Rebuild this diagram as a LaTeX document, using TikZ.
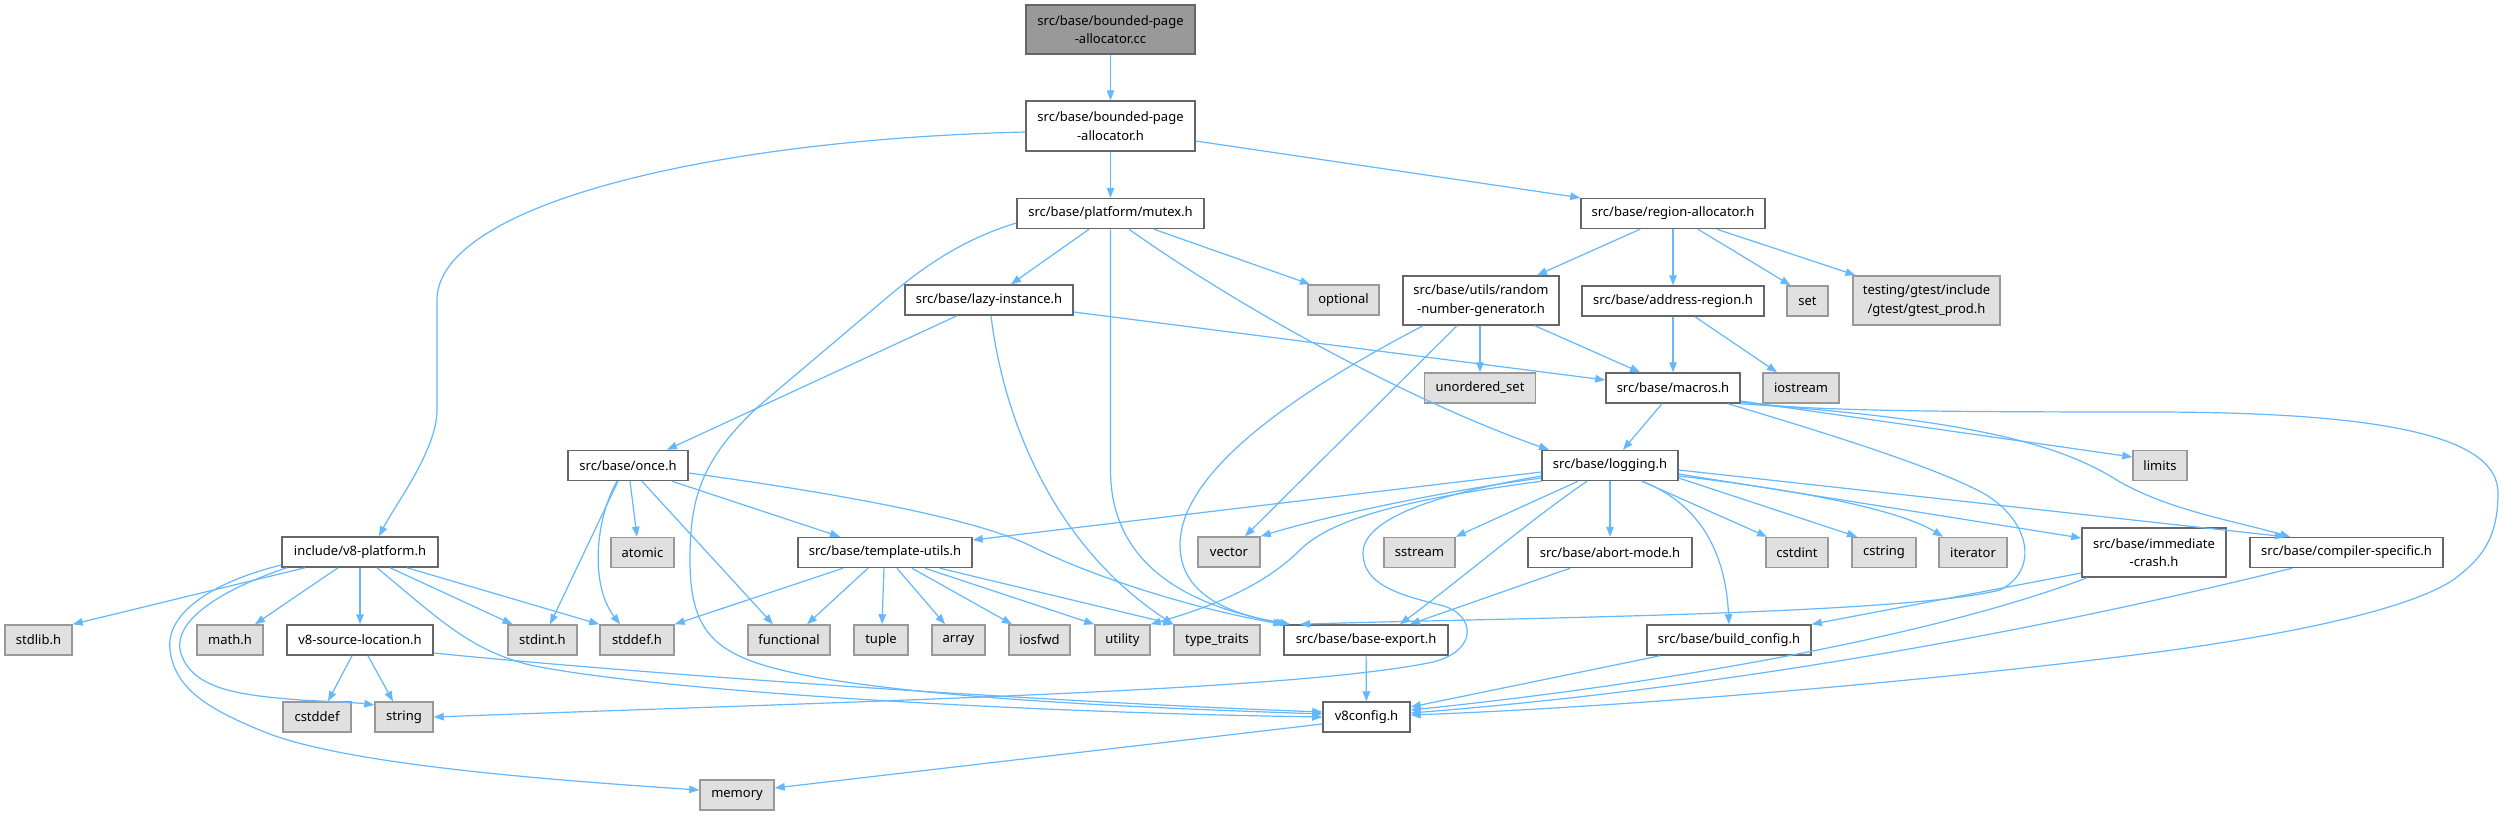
\documentclass[tikz,border=0pt]{standalone}
\usepackage{fontspec}
\setmainfont{Noto Sans}
\usetikzlibrary{arrows.meta}
\definecolor{edgec}{HTML}{63B8FF}
\definecolor{bordc}{HTML}{666666}
\definecolor{extbord}{HTML}{999999}
\definecolor{extfill}{HTML}{E0E0E0}
\definecolor{mainfill}{HTML}{999999}
\newcommand{\dxfont}{\fontsize{13}{18.7}\selectfont}
\tikzset{
  box/.style={draw=bordc, fill=white, line width=1.5pt, minimum height=30pt, inner sep=0pt, font=\dxfont, align=center, text=black},
  ext/.style={box, draw=extbord, fill=extfill},
  mainnode/.style={box, fill=mainfill, draw=bordc},
  dep/.style={draw=edgec, line width=1.2pt, -{Triangle[length=10pt,width=7.5pt]}}
}
\begin{document}
\begin{tikzpicture}[x=1pt,y=-1pt]
\fill[white] (0,0) rectangle (2504,815);
\useasboundingbox (0,0) rectangle (2504,815);
% nodes
\node[mainnode, minimum width=169, minimum height=49] (cc) at (1110.5,29.5) {src/base/bounded-page\\-allocator.cc};
\node[box, minimum width=169, minimum height=50] (bpa) at (1110.5,126) {src/base/bounded-page\\-allocator.h};
\node[box, minimum width=187] (mutex) at (1110.5,213.5) {src/base/platform/mutex.h};
\node[box, minimum width=184] (region) at (1673,213.5) {src/base/region-allocator.h};
\node[box, minimum width=168] (lazy) at (989,300) {src/base/lazy-instance.h};
\node[ext, minimum width=71] (optional) at (1343.5,300) {optional};
\node[box, minimum width=156, minimum height=49] (random) at (1481,300.5) {src/base/utils/random\\-number-generator.h};
\node[box, minimum width=182] (address) at (1673,301) {src/base/address-region.h};
\node[ext, minimum width=41] (set) at (1807.5,301) {set};
\node[ext, minimum width=147, minimum height=49] (gtest) at (1926.5,300.5) {testing/gtest/include\\/gtest/gtest\_prod.h};
\node[ext, minimum width=111] (unordered) at (1480,388) {unordered\_set};
\node[box, minimum width=134] (macros) at (1673,388) {src/base/macros.h};
\node[ext, minimum width=76] (iostream) at (1801,388) {iostream};
\node[box, minimum width=120] (once) at (628,465.5) {src/base/once.h};
\node[box, minimum width=136] (logging) at (1610,465.5) {src/base/logging.h};
\node[ext, minimum width=54] (limits) at (2160,465.5) {limits};
\node[box, minimum width=156] (v8platform) at (360,552) {include/v8-platform.h};
\node[ext, minimum width=63] (atomic) at (642.5,552.5) {atomic};
\node[box, minimum width=174] (template) at (885,552.5) {src/base/template-utils.h};
\node[ext, minimum width=62] (vector) at (1229,552) {vector};
\node[ext, minimum width=71] (sstream) at (1419.5,552.5) {sstream};
\node[box, minimum width=164] (abort) at (1610,552.5) {src/base/abort-mode.h};
\node[ext, minimum width=62] (cstdint) at (1797,552.5) {cstdint};
\node[ext, minimum width=64] (cstring) at (1884,552.5) {cstring};
\node[ext, minimum width=68] (iterator) at (1973,552.5) {iterator};
\node[box, minimum width=144, minimum height=49] (immediate) at (2154,552.5) {src/base/immediate\\-crash.h};
\node[box, minimum width=193] (compiler) at (2346.5,552.5) {src/base/compiler-specific.h};
\node[ext, minimum width=67] (stdlib) at (38.5,640) {stdlib.h};
\node[ext, minimum width=66] (math) at (230,640) {math.h};
\node[box, minimum width=146] (v8srcloc) at (360,640) {v8-source-location.h};
\node[ext, minimum width=69] (stdint) at (542.5,640) {stdint.h};
\node[ext, minimum width=74] (stddef) at (637,640) {stddef.h};
\node[ext, minimum width=82] (functional) at (789,640) {functional};
\node[ext, minimum width=54] (tuple) at (881,640) {tuple};
\node[ext, minimum width=53] (array) at (958.5,640) {array};
\node[ext, minimum width=61] (iosfwd) at (1039.5,640) {iosfwd};
\node[ext, minimum width=55] (utility) at (1122.5,640) {utility};
\node[ext, minimum width=86] (typetraits) at (1217,640) {type\_traits};
\node[box, minimum width=164] (baseexport) at (1366,640) {src/base/base-export.h};
\node[box, minimum width=164] (buildconfig) at (1729,640) {src/base/build\_config.h};
\node[ext, minimum width=68] (cstddef) at (317,717) {cstddef};
\node[ext, minimum width=58] (string) at (404,717) {string};
\node[box, minimum width=87] (v8config) at (1366.5,717) {v8config.h};
\node[ext, minimum width=74] (memory) at (737,795) {memory};
% edges
\draw[dep] (cc) -- (bpa);
\draw[dep] ([yshift=-6]bpa.west) .. controls (701,140) and (437,207) .. (437,300) -- (437,410) .. controls (437,450) and (395,505) .. ([xshift=19]v8platform.north);
\draw[dep] (bpa) -- (mutex);
\draw[dep] ([yshift=-15]bpa.east) -- (region.north west);
\draw[dep] ([xshift=-21.5]mutex.south) -- ([xshift=22]lazy.north);
\draw[dep] ([yshift=-9.5]mutex.west) .. controls (960,240) and (920,270) .. (890,295) -- (760,405) .. controls (700,460) and (690,500) .. (690,560) .. controls (690,640) and (720,660) .. (820,678) .. controls (950,700) and (1150,708) .. ([yshift=3]v8config.west);
\draw[dep] (mutex.south) -- (1110.5,470) .. controls (1110.5,560) and (1180,605) .. ([xshift=-76]baseexport.north);
\draw[dep] ([xshift=18.5]mutex.south) .. controls (1250,315) and (1420,405) .. ([xshift=-61]logging.north);
\draw[dep] ([xshift=43.5]mutex.south) -- ([xshift=-33.5]optional.north);
\draw[dep] ([xshift=-32]lazy.south) -- ([xshift=39]once.north);
\draw[dep] ([xshift=2]lazy.south) .. controls (1005,430) and (1060,550) .. (typetraits.north west);
\draw[dep] ([yshift=-12]lazy.east) -- ([yshift=8]macros.west);
\draw[dep] ([xshift=-33]region.south) -- ([xshift=56]random.north);
\draw[dep] (region) -- (address);
\draw[dep] ([xshift=25]region.south) -- ([xshift=-17]set.north);
\draw[dep] ([xshift=44]region.south) -- ([xshift=-71]gtest.north);
\draw[dep] ([xshift=-1]random.south) -- (unordered.north);
\draw[dep] ([xshift=54]random.south) -- ([xshift=-33]macros.north);
\draw[dep] ([xshift=-24]random.south) -- ([xshift=16]vector.north);
\draw[dep] ([xshift=-58]random.south) .. controls (1300,390) and (1180,470) .. (1180,545) .. controls (1180,600) and (1240,615) .. ([xshift=-80]baseexport.north);
\draw[dep] (address) -- (macros);
\draw[dep] ([xshift=22]address.south) -- ([xshift=-24]iostream.north);
\draw[dep] ([xshift=-11]macros.south) -- ([xshift=13]logging.north);
\draw[dep] ([yshift=-13]macros.east) -- ([yshift=8.5]limits.west);
\draw[dep] (macros.south east) .. controls (1990,420) and (2070,450) .. (2120,482) .. controls (2170,510) and (2230,520) .. ([xshift=-56.5]compiler.north);
\draw[dep] ([yshift=-14]macros.east) .. controls (1800,410) and (1900,412) .. (2150,412) .. controls (2400,412) and (2498,440) .. (2498,493) .. controls (2498,540) and (2480,560) .. (2453,580) .. controls (2400,615) and (2250,640) .. (2150,653) .. controls (1900,685) and (1600,708) .. ([yshift=2]v8config.east);
\draw[dep] ([xshift=55]macros.south) .. controls (1850,440) and (1940,470) .. (1983,493) .. controls (2030,520) and (2040,570) .. (2000,590) .. controls (1900,615) and (1500,618) .. ([xshift=-66]baseexport.north);
\draw[dep] (logging) -- (abort);
\draw[dep] ([xshift=32]logging.south) -- ([xshift=-30]cstdint.north);
\draw[dep] ([yshift=-12.5]logging.east) -- ([xshift=-27]cstring.north);
\draw[dep] ([yshift=-10.5]logging.east) .. controls (1800,490) and (1900,510) .. ([xshift=-30]iterator.north);
\draw[dep] ([yshift=-8.5]logging.east) -- ([yshift=14.5]immediate.west);
\draw[dep] ([yshift=-4.5]logging.east) -- ([xshift=-61.5]compiler.north);
\draw[dep] ([xshift=32]logging.south) .. controls (1690,500) and (1725,540) .. (buildconfig.north);
\draw[dep] ([xshift=-32]logging.south) -- (sstream.north east);
\draw[dep] ([xshift=-23]logging.south) .. controls (1530,520) and (1460,580) .. ([xshift=34]baseexport.north);
\draw[dep] ([yshift=-12.5]logging.west) .. controls (1450,490) and (1330,515) .. (vector.north east);
\draw[dep] ([yshift=-6.5]logging.west) -- ([yshift=12.5]template.east);
\draw[dep] (logging.south west) .. controls (1400,500) and (1330,520) .. (1300,550) .. controls (1260,590) and (1200,610) .. (utility.north east);
\draw[dep] ([yshift=-10.5]logging.west) .. controls (1430,495) and (1363,520) .. (1363,553) .. controls (1363,585) and (1400,595) .. (1440,605) .. controls (1475,613) and (1480,650) .. (1433,662) .. controls (1300,690) and (900,700) .. (string.east);
\draw[dep] ([yshift=-20.5]immediate.west) -- (buildconfig.north east);
\draw[dep] ([xshift=-67]immediate.south) .. controls (1950,630) and (1700,680) .. ([yshift=7]v8config.east);
\draw[dep] ([xshift=-54.5]compiler.south) .. controls (2000,640) and (1700,690) .. ([yshift=4]v8config.east);
\draw[dep] ([xshift=-69]buildconfig.south) -- ([yshift=10]v8config.east);
\draw[dep] ([xshift=-40]abort.south) -- ([xshift=44]baseexport.north);
\draw[dep] (baseexport) -- (v8config);
\draw[dep] ([yshift=-7]v8config.west) -- ([yshift=7]memory.east);
\draw[dep] ([xshift=-10]once.south) -- ([xshift=7.5]stdint.north);
\draw[dep] ([xshift=-11]once.south) .. controls (595,520) and (590,585) .. ([xshift=-17]stddef.north);
\draw[dep] ([xshift=2]once.south) -- ([xshift=-5.5]atomic.north);
\draw[dep] ([xshift=14]once.south) -- ([xshift=-16]functional.north);
\draw[dep] ([xshift=44]once.south) -- ([xshift=-45]template.north);
\draw[dep] ([yshift=-7.5]once.east) .. controls (850,495) and (980,520) .. (1033,547) .. controls (1100,580) and (1200,610) .. (baseexport.north west);
\draw[dep] ([xshift=-55]v8platform.south) -- (stdlib.north east);
\draw[dep] ([xshift=-22]v8platform.south) -- ([xshift=25]math.north);
\draw[dep] (v8platform) -- (v8srcloc);
\draw[dep] ([xshift=30]v8platform.south) -- ([xshift=-30]stdint.north);
\draw[dep] ([xshift=47]v8platform.south) -- (stddef.north west);
\draw[dep] ([xshift=17]v8platform.south) .. controls (440,620) and (470,650) .. (530,665) .. controls (650,690) and (1000,712) .. (v8config.west);
\draw[dep] ([yshift=-13]v8platform.west) .. controls (220,580) and (165,610) .. (170,650) .. controls (175,690) and (210,710) .. (267,733) .. controls (350,765) and (550,780) .. ([yshift=5]memory.west);
\draw[dep] ([xshift=-73]v8platform.south) .. controls (220,590) and (175,620) .. (180,650) .. controls (190,690) and (240,695) .. (300,700) .. controls (340,702) and (360,703) .. ([yshift=12]string.west);
\draw[dep] ([xshift=-8]v8srcloc.south) -- ([xshift=11]cstddef.north);
\draw[dep] ([xshift=8]v8srcloc.south) -- ([xshift=-11]string.north);
\draw[dep] ([yshift=-13]v8srcloc.east) .. controls (600,670) and (1000,700) .. ([yshift=5]v8config.west);
\draw[dep] ([xshift=-42]template.south) -- (stddef.north east);
\draw[dep] ([xshift=-17]template.south) -- ([xshift=18]functional.north);
\draw[dep] ([xshift=-1]template.south) -- ([xshift=1]tuple.north);
\draw[dep] ([xshift=12]template.south) -- ([xshift=-13.5]array.north);
\draw[dep] ([xshift=27]template.south) -- ([xshift=-27.5]iosfwd.north);
\draw[dep] ([xshift=40]template.south) -- (utility.north west);
\draw[dep] ([xshift=55]template.south) -- (typetraits.north west);
\end{tikzpicture}
\end{document}
